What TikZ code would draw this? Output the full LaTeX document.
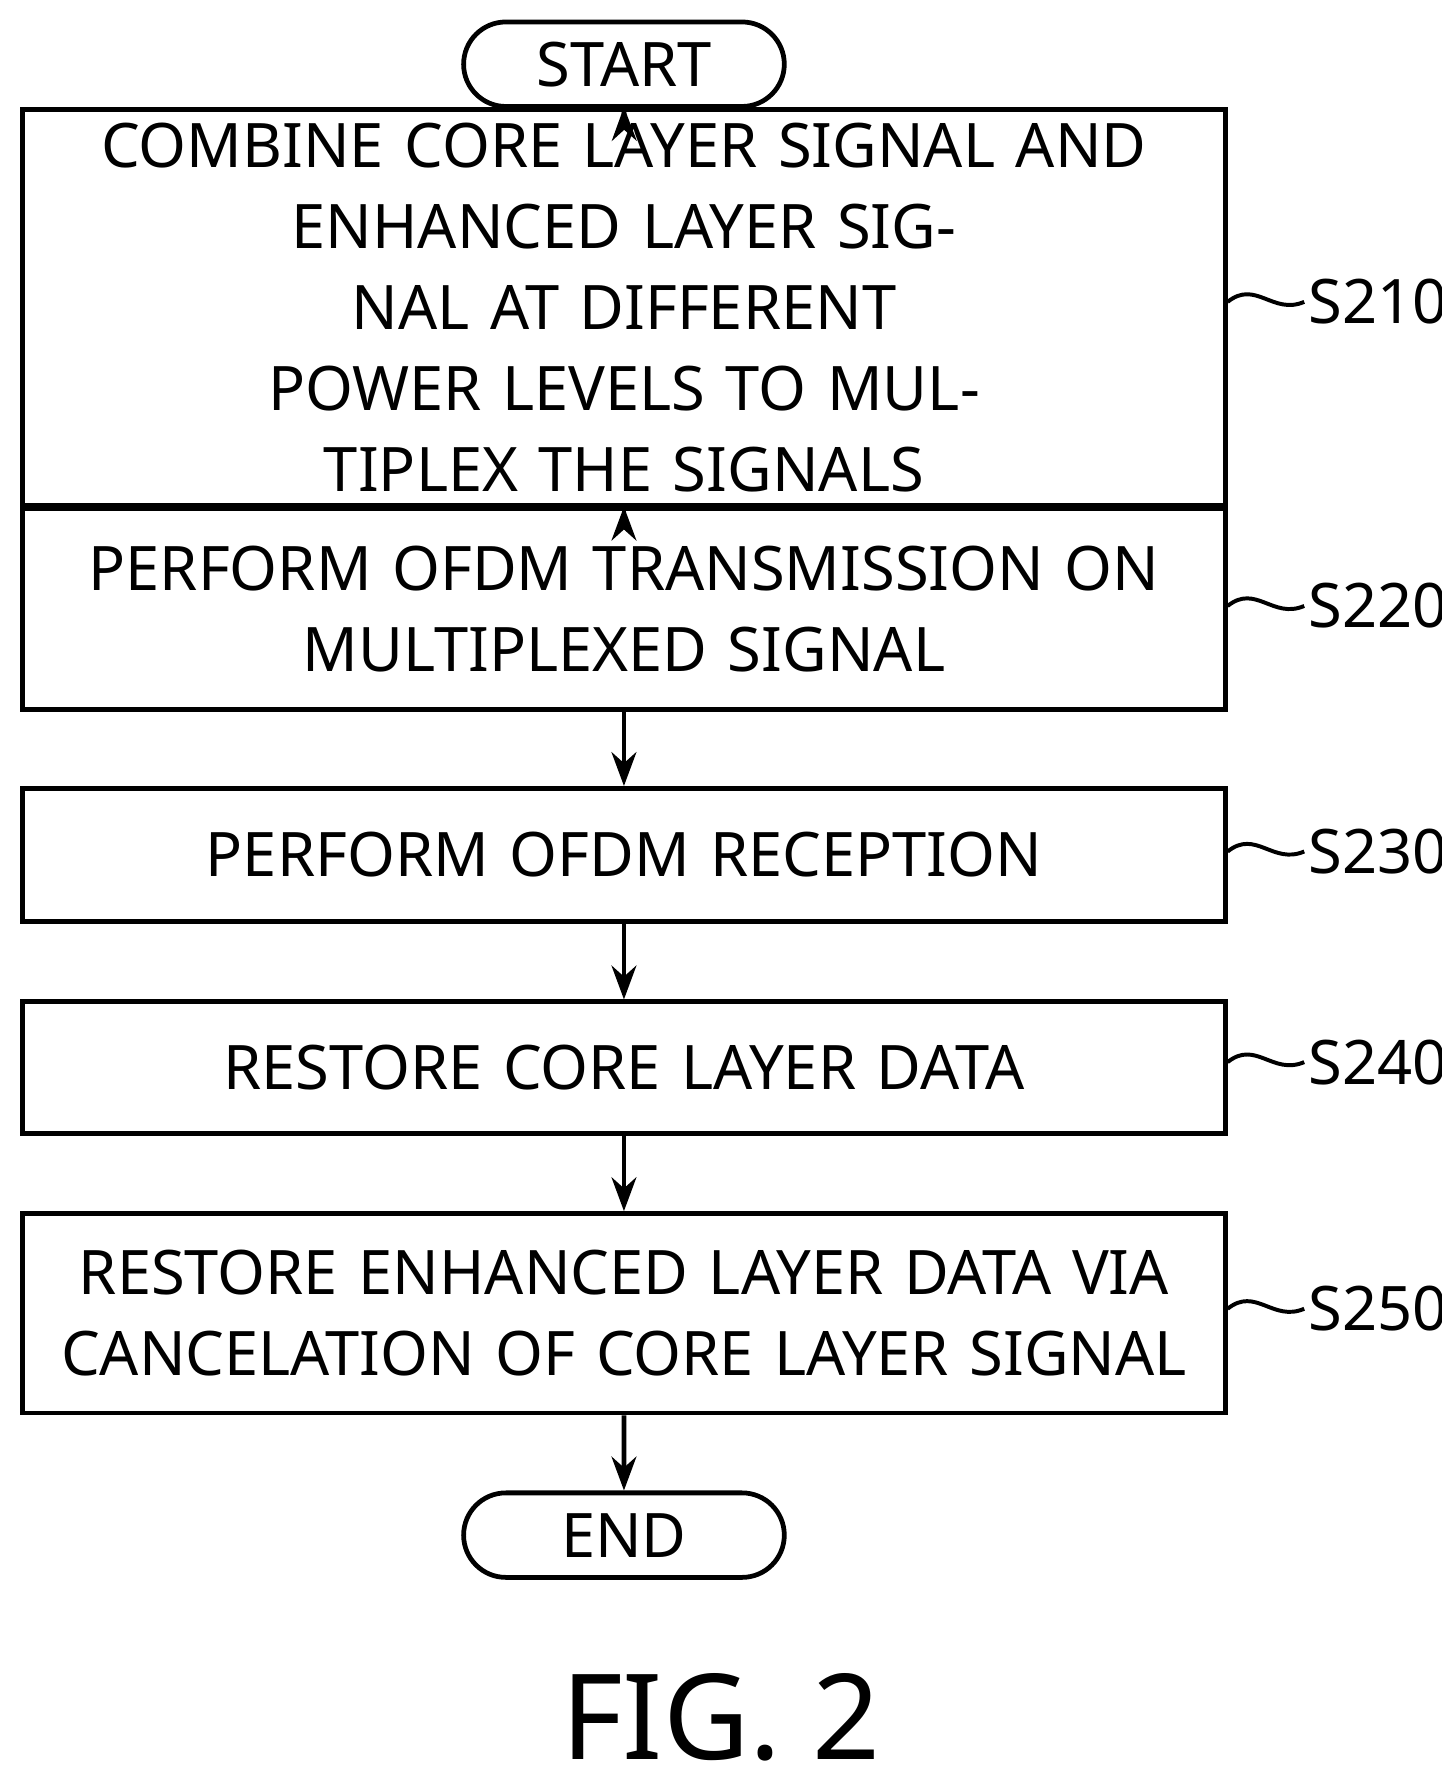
\documentclass[tikz,border=0pt]{standalone}
\usepackage{fontspec}
\setmainfont{Noto Sans}
\usetikzlibrary{arrows.meta, positioning, shapes.misc}
\tikzstyle{proc} = [rectangle, draw, line width=1.2pt, minimum width=10.68cm, align=center, font=\fontsize{15.5}{20.5}\selectfont, text width=10.4cm]
\tikzstyle{term} = [rounded rectangle, draw, line width=1.2pt, minimum width=3.08cm, minimum height=0.75cm, font=\fontsize{15.5}{18}\selectfont]
\tikzstyle{arrow} = [line width=1.2pt, -{Stealth[length=3mm, width=2.2mm]}]
\tikzstyle{tag} = [font=\fontsize{15.5}{18}\selectfont, anchor=west, inner sep=1pt]
\begin{document}
\begin{tikzpicture}[x=0.01cm, y=-0.01cm]
\useasboundingbox (0,0) rectangle (1280,1568);
\node[term] (start) at (554,57) {START};
% process steps
\node[proc, minimum height=2.16cm] (s210) at (554,273) {COMBINE CORE LAYER SIGNAL AND\\ENHANCED LAYER SIGNAL AT DIFFERENT\\POWER LEVELS TO MULTIPLEX THE SIGNALS};
\node[proc, minimum height=1.78cm] (s220) at (554,541) {PERFORM OFDM TRANSMISSION ON\\MULTIPLEXED SIGNAL};
\node[proc, minimum height=1.18cm] (s230) at (554,759) {PERFORM OFDM RECEPTION};
\node[proc, minimum height=1.17cm] (s240) at (554,948) {RESTORE CORE LAYER DATA};
\node[proc, minimum height=1.77cm] (s250) at (554,1166) {RESTORE ENHANCED LAYER DATA VIA\\CANCELATION OF CORE LAYER SIGNAL};
\node[term] (end) at (554,1363) {END};
% arrows
\draw[arrow] (start) -- (s210);
\draw[arrow] (s210) -- (s220);
\draw[arrow] (s220) -- (s230);
\draw[arrow] (s230) -- (s240);
\draw[arrow] (s240) -- (s250);
\draw[arrow] (s250) -- (end);
% step labels
\foreach \n/\t/\y in {s210/S210/268, s220/S220/538, s230/S230/756, s240/S240/943, s250/S250/1162}{
  \node[tag] (l\n) at (1158,\y) {\t};
  \draw[line width=1pt] (1090,\y) .. controls (1115,\y-20) and (1130,\y+12) .. (l\n.west);
}
\node[font=\fontsize{30}{34}\selectfont] (fig) at (640,1525) {FIG. 2};
\end{tikzpicture}
\end{document}
